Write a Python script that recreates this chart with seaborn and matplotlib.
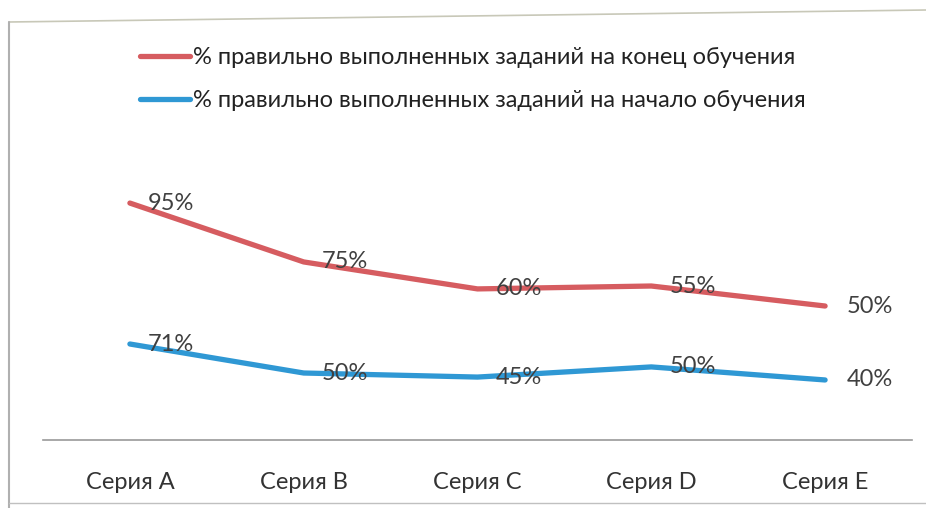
import matplotlib
matplotlib.use("Agg")
import matplotlib.pyplot as plt
from matplotlib.lines import Line2D
import seaborn as sns
import pandas as pd

# categories and series
categories = ["Серия A", "Серия B", "Серия C", "Серия D", "Серия E"]
series_names = ["% правильно выполненных заданий на конец обучения",
                "% правильно выполненных заданий на начало обучения"]

# line heights as drawn in the picture (the hidden value axis)
end_levels = [81.7, 61.4, 52.1, 53.1, 46.2]
start_levels = [33.1, 23.1, 21.7, 25.2, 20.7]

# data labels as printed on the chart
end_labels = ["95%", "75%", "60%", "55%", "50%"]
start_labels = ["71%", "50%", "45%", "50%", "40%"]

red = "#d65c60"
blue = "#2f98d4"
text_col = "#404040"

df = pd.DataFrame({
    "cat": categories * 2,
    "level": end_levels + start_levels,
    "series": [series_names[0]] * 5 + [series_names[1]] * 5,
})

sns.set_style("white")
plt.rcParams["font.family"] = ["Lato", "DejaVu Sans"]

fig = plt.figure(figsize=(9.26, 5.08), dpi=100)
ax = fig.add_axes([43 / 926, 1 - 440 / 508, (912 - 43) / 926, 290 / 508])

sns.lineplot(data=df, x="cat", y="level", hue="series", hue_order=series_names,
             palette=[red, blue], linewidth=3.8, ax=ax, sort=False)

ax.set_xlim(-0.5, 4.5)
ax.set_ylim(0, 100)
ax.set_xlabel("")
ax.set_ylabel("")
ax.set_yticks([])
ax.tick_params(axis="x", length=0, pad=23, labelsize=17, labelcolor="#333333")
for s in ["top", "right", "left"]:
    ax.spines[s].set_visible(False)
ax.spines["bottom"].set_color("#9a9a9a")
ax.spines["bottom"].set_linewidth(1.2)

# data labels, to the right of each point
for i in range(5):
    off = 22 if i == 4 else 18
    ax.annotate(end_labels[i], (i, end_levels[i]), xytext=(off, 0),
                textcoords="offset pixels", va="center", ha="left",
                fontsize=17, color=text_col)
    ax.annotate(start_labels[i], (i, start_levels[i]), xytext=(off, 0),
                textcoords="offset pixels", va="center", ha="left",
                fontsize=17, color=text_col)

leg = ax.legend(loc="upper left", bbox_to_anchor=(140 / 926, 1 - 47 / 508),
                bbox_transform=fig.transFigure, frameon=False, fontsize=17,
                handlelength=2.1, handletextpad=0.15, labelspacing=0.95,
                borderpad=0, borderaxespad=0)
for t in leg.get_texts():
    t.set_color("#222222")

# chart frame from the scan
fig.add_artist(Line2D([9 / 926, 1], [1 - 22 / 508, 1 - 10 / 508],
                      transform=fig.transFigure, color="#c8c8b8", lw=1.2))
fig.add_artist(Line2D([9 / 926, 9 / 926], [1 - 22 / 508, 0],
                      transform=fig.transFigure, color="#b0b0b0", lw=1.5))
fig.add_artist(Line2D([9 / 926, 1], [5 / 508, 5 / 508],
                      transform=fig.transFigure, color="#c0c0c0", lw=1.0))

fig.savefig("out.png", dpi=100)
